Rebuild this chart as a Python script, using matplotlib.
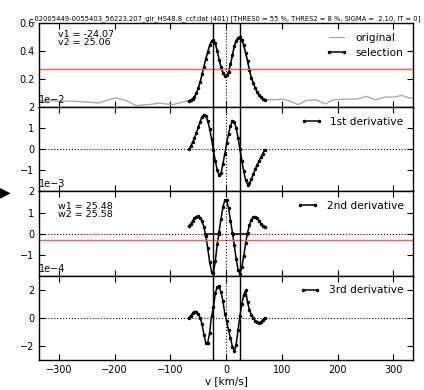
import matplotlib
matplotlib.use("Agg")
import matplotlib.pyplot as plt

# velocity grid of the selected part of the CCF [km/s]
v_sel = [-67.0, -63.6, -60.2, -56.8, -53.4, -50.0, -46.6, -43.2, -39.8, -36.4,
         -33.0, -29.6, -26.2, -22.8, -19.4, -16.0, -12.6, -9.2, -5.8, -2.4,
         1.0, 4.4, 7.8, 11.2, 14.6, 18.0, 21.4, 24.8, 28.2, 31.6,
         35.0, 38.4, 41.8, 45.2, 48.6, 52.0, 55.4, 58.8, 62.2, 65.6, 69.0]

ccf_sel = [0.046, 0.050, 0.060, 0.076, 0.100, 0.135, 0.180, 0.235, 0.290, 0.345,
           0.395, 0.440, 0.470, 0.478, 0.455, 0.400, 0.340, 0.285, 0.245, 0.225,
           0.228, 0.250, 0.305, 0.370, 0.435, 0.475, 0.495, 0.500, 0.480, 0.440,
           0.385, 0.330, 0.262, 0.210, 0.172, 0.138, 0.110, 0.087, 0.072, 0.060, 0.052]

d1 = [0.00, 0.15, 0.33, 0.55, 0.78, 1.05, 1.32, 1.55, 1.65, 1.58,
      1.35, 0.98, 0.50, -0.05, -0.55, -0.98, -1.24, -1.12, -0.70, -0.20,
      0.30, 0.75, 1.12, 1.35, 1.32, 1.02, 0.55, 0.00, -0.55, -1.05,
      -1.45, -1.67, -1.62, -1.42, -1.18, -0.95, -0.75, -0.55, -0.38, -0.20, -0.02]

d2 = [0.35, 0.45, 0.60, 0.72, 0.80, 0.82, 0.75, 0.58, 0.30, -0.10,
      -0.70, -1.35, -1.80, -1.85, -1.30, -0.50, 0.10, 0.70, 1.25, 1.58,
      1.58, 1.20, 0.62, 0.05, -0.55, -1.20, -1.72, -1.90, -1.60, -1.05,
      -0.45, 0.05, 0.40, 0.65, 0.78, 0.80, 0.72, 0.60, 0.48, 0.38, 0.30]

d3 = [0.00, 0.15, 0.32, 0.45, 0.45, 0.30, 0.00, -0.45, -1.20, -1.80,
      -1.80, -1.05, 0.10, 0.75, 1.75, 2.20, 2.25, 1.85, 1.20, 0.30,
      -0.25, -0.90, -1.45, -2.05, -2.35, -1.90, -0.85, 0.15, 1.00, 1.65,
      1.95, 1.10, 0.55, 0.20, 0.02, -0.20, -0.32, -0.35, -0.30, -0.15, 0.00]

# parts of the full CCF outside the selection
v_left = [-335, -320, -305, -290, -276, -262, -246, -228, -213, -198,
          -180, -162, -150, -138, -120, -108, -96, -84, -72]
ccf_left = [0.045, 0.046, 0.044, 0.043, 0.043, 0.040, 0.036, 0.031, 0.050, 0.067,
            0.048, 0.012, 0.016, 0.019, 0.031, 0.024, 0.019, 0.030, 0.043]
v_right = [75, 85, 102, 115, 129, 144, 162, 177, 192, 216,
           234, 252, 267, 285, 300, 315, 327, 338]
ccf_right = [0.054, 0.053, 0.058, 0.043, 0.019, 0.048, 0.053, 0.024, 0.053, 0.058,
             0.058, 0.077, 0.053, 0.072, 0.072, 0.084, 0.067, 0.067]

v1, v2 = -24.07, 25.06
w1, w2 = 25.48, 25.58
thres0 = 0.275
thres2 = -0.28e-3
zero_seg1 = [-38.5, -12.5]
zero_seg2 = [12.5, 38.0]

title = ("_02005449-0055403_56223.207_gir_HS48.8_ccf.dat (401) "
         "[THRES0 = 55 %, THRES2 = 8 %, SIGMA =  2.10, IT = 0]")

plt.rcParams.update({
    "font.family": "DejaVu Sans",
    "xtick.direction": "in", "ytick.direction": "in",
    "xtick.top": True, "ytick.right": True,
    "xtick.labelsize": 7, "ytick.labelsize": 7,
    "xtick.major.size": 4, "ytick.major.size": 4,
    "axes.linewidth": 1.0,
    "legend.fontsize": 7.6, "legend.frameon": False, "legend.numpoints": 2,
})

fig, axes = plt.subplots(4, 1, sharex=True, figsize=(4.24, 3.90), dpi=100)
fig.subplots_adjust(left=0.0927, right=0.974, top=0.941, bottom=0.077, hspace=0)

v_orig = v_left + v_sel + v_right
ccf_orig = ccf_left + ccf_sel + ccf_right

ax = axes[0]
ax.plot(v_orig, ccf_orig, color="0.67", lw=1, label="original")
ax.plot(v_sel, ccf_sel, ".-", color="k", ms=3, lw=1.1, label="selection")
ax.axhline(thres0, color="#ff5a5a", lw=1)
ax.set_ylim(0, 0.6)
ax.set_yticks([0.2, 0.4, 0.6])
ax.text(0.05, 0.92, "v1 = %.2f\nv2 = %.2f" % (v1, v2), transform=ax.transAxes,
        fontsize=6.8, va="top", linespacing=0.95)
ax.legend(loc="upper right")
ax.set_title(title, fontsize=4.9, pad=2)

scales = [1e-2, 1e-3, 1e-4]
derivs = [d1, d2, d3]
names = ["1st derivative", "2nd derivative", "3rd derivative"]
ylims = [(-2, 2), (-2, 2), (-3, 3)]
yticks = [[-1, 0, 1, 2], [-1, 0, 1, 2], [-2, 0, 2]]

for ax, d, s, name, yl, yt in zip(axes[1:], derivs, scales, names, ylims, yticks):
    ax.plot(v_sel, [x * s for x in d], ".-", color="k", ms=3, lw=1.1, label=name)
    ax.axhline(0, color="k", ls=":", lw=0.8)
    ax.set_ylim(yl[0] * s, yl[1] * s)
    ax.set_yticks([t * s for t in yt])
    ax.ticklabel_format(axis="y", style="sci", scilimits=(0, 0))
    ax.yaxis.get_offset_text().set_fontsize(7)
    ax.legend(loc="upper right")

ax = axes[2]
ax.plot(zero_seg1, [0, 0], ".-", color="k", ms=3, lw=1.1)
ax.plot(zero_seg2, [0, 0], ".-", color="k", ms=3, lw=1.1)
ax.axhline(thres2, color="#ff5a5a", lw=1)
ax.text(0.05, 0.88, "w1 = %.2f\nw2 = %.2f" % (w1, w2), transform=ax.transAxes,
        fontsize=6.8, va="top", linespacing=0.95)

for ax in axes:
    ax.axvline(v1, color="k", lw=1)
    ax.axvline(v2, color="k", lw=1)
    ax.axvline(0, color="k", ls=":", lw=0.8)

axes[-1].set_xlim(-335, 335)
axes[-1].set_xticks([-300, -200, -100, 0, 100, 200, 300])
axes[-1].set_xlabel("v [km/s]", fontsize=7.5, labelpad=1)

fig.text(0.0, 1 - 192 / 390, "\u25b6", fontsize=10, va="center", ha="left")

fig.savefig("out.png", dpi=100)
